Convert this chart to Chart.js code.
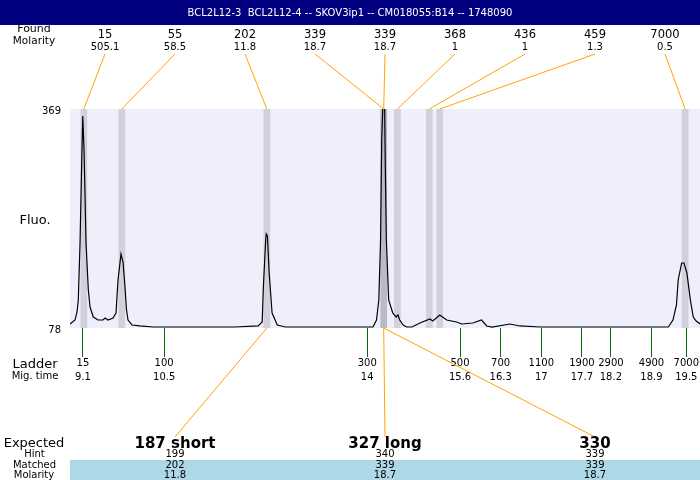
<!DOCTYPE html>
<html>
<head>
<meta charset="utf-8">
<script src="https://cdn.jsdelivr.net/npm/chart.js@4"></script>
<style>
  html, body { margin: 0; padding: 0; background: #fff; }
  canvas { display: block; }
</style>
</head>
<body>
<canvas id="elecGraph" width="700" height="480"></canvas>
<script>
// electropherogram for one sample, x = migration time, y = fluorescence
var title = 'BCL2L12-3  BCL2L12-4 -- SKOV3ip1 -- CM018055:B14 -- 1748090';

var traceTime = [8.877, 8.963, 8.998, 9.020, 9.050, 9.076, 9.097, 9.119, 9.153, 9.193,
                 9.222, 9.279, 9.360, 9.446, 9.481, 9.532, 9.619, 9.670, 9.705, 9.756,
                 9.791, 9.825, 9.851, 9.877, 9.946, 10.08, 10.31, 11.12, 11.72, 12.12,
                 12.19, 12.21, 12.25, 12.26, 12.28, 12.31, 12.36, 12.45, 12.59, 13.53,
                 14.10, 14.16, 14.20, 14.23, 14.25, 14.27, 14.30, 14.31, 14.33, 14.37,
                 14.44, 14.50, 14.53, 14.56, 14.62, 14.68, 14.77, 14.91, 15.08, 15.13,
                 15.25, 15.37, 15.54, 15.63, 15.82, 15.97, 16.06, 16.15, 16.46, 16.63,
                 16.98, 18.01, 19.19, 19.27, 19.33, 19.36, 19.42, 19.46, 19.51, 19.57,
                 19.62, 19.67, 19.74];
var traceFluo = [83.3, 88.6, 99.3, 115.2, 190.9, 288.0, 359.7, 314.5, 190.9, 128.5,
                 105.9, 92.6, 88.6, 88.6, 91.3, 88.6, 91.3, 97.9, 141.8, 176.3,
                 165.7, 132.5, 101.9, 88.6, 82.0, 80.7, 79.3, 79.3, 79.3, 80.7,
                 86.0, 132.5, 195.0, 203.0, 200.3, 151.1, 97.9, 82.0, 79.3, 79.3,
                 79.3, 88.6, 115.2, 195.0, 327.8, 374.0, 374.0, 301.3, 195.0, 115.2,
                 97.9, 92.6, 95.3, 88.6, 82.0, 79.3, 79.3, 84.6, 90.0, 87.3,
                 95.3, 88.6, 86.0, 83.3, 84.6, 88.6, 80.7, 79.3, 83.3, 80.7,
                 79.3, 79.3, 79.3, 88.6, 108.6, 141.8, 164.4, 164.4, 151.1, 115.2,
                 92.6, 87.3, 83.3];

var foundSize = ['15', '55', '202', '339', '339', '368', '436', '459', '7000'];
var foundMolarity = ['505.1', '58.5', '11.8', '18.7', '18.7', '1', '1', '1.3', '0.5'];
var foundTime = [9.115, 9.77, 12.27, 14.284, 14.284, 14.52, 15.07, 15.25, 19.48];

var ladderSize = ['15', '100', '300', '500', '700', '1100', '1900', '2900', '4900', '7000'];
var ladderTime = [9.1, 10.5, 14, 15.6, 16.3, 17, 17.7, 18.2, 18.9, 19.5];
var ladderTimeLabel = ['9.1', '10.5', '14', '15.6', '16.3', '17', '17.7', '18.2', '18.9', '19.5'];

var expectedLabel = ['187 short', '327 long', '330'];
var hintSize = ['199', '340', '339'];
var matchedSize = ['202', '339', '339'];
var matchedMolarity = ['11.8', '18.7', '18.7'];
var matchedPeak = [2, 3, 4]; // index into the found peaks

var fluoMin = 78, fluoMax = 369;
var timeMin = 8.877, timeMax = 19.736;

var FONT = '"DejaVu Sans", Verdana, sans-serif';

function txt(ctx, s, x, y, size, opts) {
    opts = opts || {};
    ctx.font = (opts.bold ? 'bold ' : '') + size + 'px ' + FONT;
    ctx.fillStyle = opts.color || '#000';
    ctx.textAlign = opts.align || 'center';
    ctx.textBaseline = 'middle';
    ctx.fillText(s, x, y);
}

function line(ctx, x1, y1, x2, y2, color) {
    ctx.beginPath();
    ctx.moveTo(x1, y1);
    ctx.lineTo(x2, y2);
    ctx.strokeStyle = color;
    ctx.lineWidth = 1;
    ctx.stroke();
}

var decoPlugin = {
    id: 'deco',
    beforeDatasetsDraw: function(chart) {
        var ctx = chart.ctx, a = chart.chartArea;
        ctx.save();
        ctx.fillStyle = '#EFEFFC';
        ctx.fillRect(a.left, a.top, a.right - a.left, a.bottom - a.top);
        ctx.restore();
    },
    afterDraw: function(chart) {
        var ctx = chart.ctx, a = chart.chartArea;
        var xs = chart.scales.x, ys = chart.scales.y;
        ctx.save();

        // title bar
        ctx.fillStyle = '#000080';
        ctx.fillRect(0, 0, chart.width, 25);
        txt(ctx, title, 350, 13, 10, {color: '#fff'});

        // found peaks along the top
        txt(ctx, 'Found', 34, 29, 11);
        txt(ctx, 'Molarity', 34, 41, 10.5);
        var colW = (a.right - a.left) / foundSize.length;
        for (var i = 0; i < foundSize.length; i++) {
            var cx = a.left + colW * (i + 0.5);
            txt(ctx, foundSize[i], cx, 35, 11.5);
            txt(ctx, foundMolarity[i], cx, 47, 10);
            line(ctx, cx, 54, xs.getPixelForValue(foundTime[i]), a.top, '#FFA500');
        }

        // y labels
        txt(ctx, String(fluoMax), 61, ys.getPixelForValue(fluoMax) + 2, 10, {align: 'right'});
        txt(ctx, String(fluoMin), 61, ys.getPixelForValue(fluoMin) + 2, 10, {align: 'right'});
        txt(ctx, 'Fluo.', 35, (a.top + a.bottom) / 2 + 2, 13);

        // ladder
        txt(ctx, 'Ladder', 35, 364.5, 13);
        txt(ctx, 'Mig. time', 35, 376.5, 10);
        for (var j = 0; j < ladderSize.length; j++) {
            var lx = xs.getPixelForValue(ladderTime[j]);
            txt(ctx, ladderSize[j], lx, 363.5, 10);
            txt(ctx, ladderTimeLabel[j], lx, 377, 10);
        }

        // expected / matched rows
        ctx.fillStyle = '#ADD8E6';
        ctx.fillRect(a.left, 460, a.right - a.left, 20);
        txt(ctx, 'Expected', 34, 443.5, 13);
        txt(ctx, 'Hint', 34.5, 454.5, 10);
        txt(ctx, 'Matched', 34.5, 465, 10);
        txt(ctx, 'Molarity', 34, 475, 10);
        var expW = (a.right - a.left) / expectedLabel.length;
        for (var k = 0; k < expectedLabel.length; k++) {
            var ex = a.left + expW * (k + 0.5);
            var px = xs.getPixelForValue(foundTime[matchedPeak[k]]);
            line(ctx, px, a.bottom, ex, 437, '#FFA500');
            txt(ctx, expectedLabel[k], ex, 444, 15, {bold: true});
            txt(ctx, hintSize[k], ex, 454.5, 10);
            txt(ctx, matchedSize[k], ex, 465, 10);
            txt(ctx, matchedMolarity[k], ex, 475, 10);
        }
        ctx.restore();
    }
};

var traceData = traceTime.map(function(t, i) { return {x: t, y: traceFluo[i]}; });
var bandData = foundTime.map(function(t) { return {x: t, y: [fluoMin, fluoMax]}; });

var elecConfig = {
    type: 'line',
    data: {
        datasets: [{
            type: 'line',
            data: traceData,
            borderColor: '#000',
            borderWidth: 1.2,
            pointRadius: 0,
            tension: 0,
            fill: false,
            order: 1
        }, {
            type: 'bar',
            data: bandData,
            backgroundColor: 'rgba(120,120,131,0.25)',
            borderWidth: 0,
            barThickness: 6,
            grouped: false,
            order: 2
        }]
    },
    options: {
        responsive: false,
        animation: false,
        events: [],
        layout: { padding: { top: 109, left: 70, right: 0, bottom: 0 } },
        plugins: { legend: { display: false }, tooltip: { enabled: false }, title: { display: false } },
        scales: {
            x: {
                type: 'linear',
                min: timeMin,
                max: timeMax,
                offset: false,
                border: { display: false },
                grid: { offset: false, drawOnChartArea: false, drawTicks: true, tickLength: 29, color: '#007000', lineWidth: 1 },
                ticks: { display: false },
                afterBuildTicks: function(scale) {
                    scale.ticks = ladderTime.map(function(v) { return {value: v}; });
                },
                afterFit: function(scale) { scale.height = 152; }
            },
            y: {
                type: 'linear',
                display: false,
                min: fluoMin,
                max: fluoMax
            }
        }
    },
    plugins: [decoPlugin]
};

var elecCtx = document.getElementById('elecGraph');
var elecChart = new Chart(elecCtx, elecConfig);
</script>
</body>
</html>
